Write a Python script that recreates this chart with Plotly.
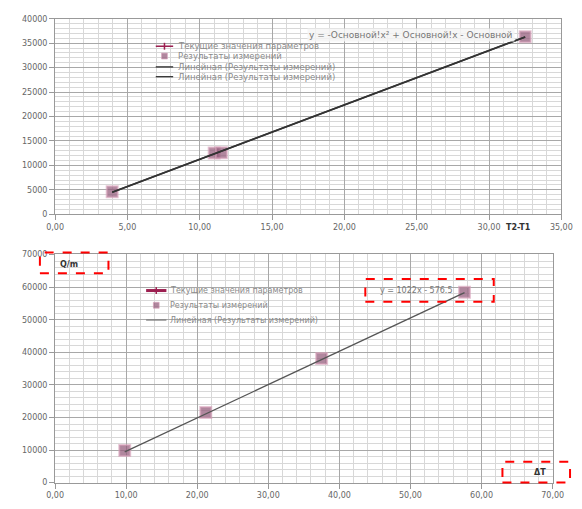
import numpy as np
import plotly.graph_objects as go

# --- top chart: flow vs. temperature difference T2-T1 ---
top_dt = [3.95, 11.0, 11.5, 32.5]
top_q = [4600, 12500, 12600, 36300]
top_eq = "y = -Основной!x² + Основной!x - Основной"

# --- bottom chart: Q/m vs. ΔT ---
bot_dt = [9.8, 21.2, 37.5, 57.6]
bot_q = [9900, 21500, 38100, 58400]
bot_slope = 1022
bot_icept = -576.5

legend_names = ["Текущие значения параметров", "Результаты измерений",
                "Линейная (Результаты измерений)"]

W, H = 582, 509


def px(x):
    return x / W


def py(y):
    return 1 - y / H


marker_col = "rgba(150,95,125,0.75)"
marker_edge = "rgba(215,160,185,0.6)"
cur_col = "#9c1f50"
tick_font = dict(family="DejaVu Sans", size=8, color="#666666")

fig = go.Figure()

# top chart
fig.add_trace(go.Scatter(x=top_dt, y=top_q, mode="markers", name=legend_names[1],
                         marker=dict(symbol="square", size=11, color=marker_col,
                                     line=dict(color=marker_edge, width=2)),
                         xaxis="x", yaxis="y", showlegend=False))
k1, b1 = np.polyfit(top_dt, top_q, 1)
fit_x = np.array([min(top_dt), max(top_dt)])
for _ in range(2):
    fig.add_trace(go.Scatter(x=fit_x, y=k1 * fit_x + b1, mode="lines", name=legend_names[2],
                             line=dict(color="#333333", width=1.6),
                             xaxis="x", yaxis="y", showlegend=False))

# bottom chart
fig.add_trace(go.Scatter(x=bot_dt, y=bot_q, mode="markers", name=legend_names[1],
                         marker=dict(symbol="square", size=11, color=marker_col,
                                     line=dict(color=marker_edge, width=2)),
                         xaxis="x2", yaxis="y2", showlegend=False))
fit2_x = np.array([min(bot_dt), max(bot_dt)])
fig.add_trace(go.Scatter(x=fit2_x, y=bot_slope * fit2_x + bot_icept, mode="lines",
                         name=legend_names[2], line=dict(color="#555555", width=1.3),
                         xaxis="x2", yaxis="y2", showlegend=False))

major = "#a8a8a8"
minor = "#d8d8d8"


def axis(domain, rng, dt, mdt, anchor, fmt):
    return dict(domain=domain, range=rng, dtick=dt, tick0=0, tickformat=fmt,
                showgrid=True, gridcolor=major, gridwidth=1,
                minor=dict(dtick=mdt, showgrid=True, gridcolor=minor, gridwidth=1),
                showline=True, linecolor="#999999", mirror=True, zeroline=False,
                ticks="outside", ticklen=5, tickcolor="#999999",
                tickfont=tick_font, anchor=anchor)


fig.update_layout(
    width=W, height=H,
    margin=dict(l=0, r=0, t=0, b=0),
    paper_bgcolor="white", plot_bgcolor="white",
    separators=", ",
    showlegend=False,
    xaxis=axis([px(47.7), px(572)], [0, 35], 5, 1, "y", ".2f"),
    yaxis=axis([py(214), py(15)], [0, 40000], 5000, 1000, "x", "d"),
    xaxis2=axis([px(47.7), px(563)], [0, 70], 10, 2, "y2", ".2f"),
    yaxis2=axis([py(487.3), py(255)], [0, 70000], 10000, 2000, "x2", "d"),
)


def text(s, x, y, size=8, color="#666666", anchor="center", bg=None):
    fig.add_annotation(text=s, x=px(x), y=py(y), xref="paper", yref="paper",
                       xanchor=anchor, yanchor="middle", showarrow=False,
                       font=dict(family="DejaVu Sans", size=size, color=color),
                       bgcolor=bg, borderpad=1)


def hline(x0, x1, y, color, width):
    fig.add_shape(type="line", xref="paper", yref="paper",
                  x0=px(x0), x1=px(x1), y0=py(y), y1=py(y),
                  line=dict(color=color, width=width))


def legend_key(kind, x0, x1, y, color, lw=1.5):
    xc = (x0 + x1) / 2
    if kind in ("line", "cross"):
        hline(x0, x1, y, color, lw)
    if kind == "cross":
        fig.add_shape(type="line", xref="paper", yref="paper",
                      x0=px(xc), x1=px(xc), y0=py(y - 3.5), y1=py(y + 3.5),
                      line=dict(color=color, width=1.5))
    if kind == "square":
        fig.add_shape(type="rect", xref="paper", yref="paper",
                      x0=px(xc - 3), x1=px(xc + 3), y0=py(y + 3), y1=py(y - 3),
                      fillcolor=marker_col, line=dict(color=marker_edge, width=1))


# top chart legend
top_rows = [("cross", legend_names[0], 43, cur_col, 1.5),
            ("square", legend_names[1], 53, None, 0),
            ("line", legend_names[2], 64, "#333333", 1.3),
            ("line", legend_names[2], 74, "#333333", 1.3)]
for kind, name, y, col, lw in top_rows:
    legend_key(kind, 152, 170, y, col, lw)
    text(name, 173, y, size=8.5, color="#8a8a8a", anchor="left")

# bottom chart legend
bot_rows = [("cross", legend_names[0], 291.7, cur_col, 3),
            ("square", legend_names[1], 306.7, None, 0),
            ("line", legend_names[2], 321.7, "#777777", 1.2)]
for kind, name, y, col, lw in bot_rows:
    legend_key(kind, 142, 163, y, col, lw)
    text(name, 165, y, size=8, color="#8a8a8a", anchor="left")

# equations and axis captions
text(top_eq, 416, 32, size=9, color="#777777", bg="rgba(244,244,244,0.85)")
text("<b>T2-T1</b>", 528, 228, size=8, color="#333333")
text(f"y = {bot_slope}x - {abs(bot_icept)}", 422, 292, size=8, color="#777777")
text("<b>Q/m</b>", 62, 265, size=8, color="#333333")
text("<b>ΔT</b>", 550, 477, size=8, color="#333333")

# dashed highlight frames
for (x0, y0, x1, y1) in [(32, 253, 103, 274), (369, 280, 502, 303), (511, 466, 581, 487)]:
    fig.add_shape(type="rect", xref="paper", yref="paper",
                  x0=px(x0), x1=px(x1), y0=py(y1), y1=py(y0),
                  line=dict(color="red", width=2, dash="dash"))

fig.write_html("out.html")
